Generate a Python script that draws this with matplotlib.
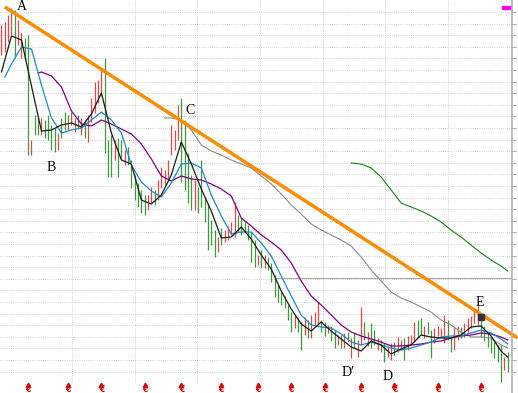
import numpy as np
import matplotlib
matplotlib.use("Agg")
import matplotlib.pyplot as plt
from matplotlib.patches import Rectangle

# daily bars (high / low), up=1 -> red bar, up=0 -> green bar
bar_high = [375, 378, 385, 392, 390, 380, 367, 362, 365, 260,
            285, 282, 282, 280, 285, 275, 272, 267, 282, 288,
            285, 288, 282, 285, 282, 280, 285, 302, 318, 320,
            330, 342, 260, 265, 260, 262, 260, 250, 253, 240,
            225, 217, 210, 205, 205, 213, 210, 220, 233, 230,
            240, 275, 270, 295, 302, 280, 247, 225, 220, 213,
            240, 203, 197, 180, 170, 163, 172, 170, 174, 178,
            198, 185, 182, 178, 175, 168, 160, 145, 150, 145,
            143, 137, 125, 115, 108, 104, 95, 88, 85, 82,
            78, 83, 80, 85, 88, 98, 80, 78, 75, 74,
            70, 65, 65, 67, 68, 62, 67, 60, 93, 78,
            68, 77, 70, 62, 60, 57, 53, 57, 58, 63,
            60, 62, 64, 65, 78, 80, 82, 74, 78, 70,
            72, 74, 72, 85, 80, 64, 73, 74, 73, 77,
            82, 84, 90, 95, 85, 74, 67, 62, 58, 55,
            55, 43, 48]
bar_low = [345, 348, 358, 365, 342, 355, 342, 340, 245, 245,
           265, 265, 265, 262, 260, 250, 248, 250, 262, 270,
           270, 275, 268, 272, 265, 262, 258, 278, 287, 297,
           305, 247, 223, 223, 240, 223, 242, 235, 235, 212,
           200, 193, 187, 185, 190, 197, 195, 200, 212, 215,
           222, 245, 250, 260, 218, 210, 197, 190, 190, 187,
           193, 178, 150, 155, 143, 148, 155, 158, 160, 165,
           163, 168, 165, 168, 160, 138, 133, 135, 132, 132,
           130, 118, 103, 98, 95, 92, 80, 68, 72, 68,
           50, 65, 62, 62, 75, 76, 68, 64, 67, 59,
           52, 55, 52, 52, 58, 42, 52, 43, 55, 60,
           54, 52, 55, 50, 48, 38, 43, 40, 45, 48,
           50, 40, 50, 55, 58, 62, 65, 62, 66, 42,
           57, 64, 62, 57, 60, 48, 50, 60, 62, 63,
           67, 72, 77, 75, 63, 59, 53, 47, 42, 38,
           18, 30, 28]
bar_up = [1, 1, 1, 1, 0, 1, 1, 0, 0, 1,
          0, 0, 1, 0, 0, 0, 0, 1, 0, 0,
          1, 0, 1, 0, 1, 0, 1, 1, 1, 1,
          1, 0, 0, 0, 1, 0, 0, 1, 0, 0,
          0, 0, 0, 0, 1, 1, 0, 1, 1, 1,
          1, 1, 1, 1, 0, 0, 0, 0, 1, 0,
          0, 0, 0, 0, 0, 1, 0, 1, 1, 1,
          1, 0, 0, 0, 0, 0, 0, 1, 0, 1,
          0, 0, 0, 0, 0, 0, 0, 0, 1, 0,
          0, 1, 0, 1, 1, 1, 0, 0, 1, 0,
          0, 1, 0, 1, 0, 1, 0, 1, 1, 0,
          1, 0, 0, 1, 0, 0, 1, 1, 0, 1,
          1, 0, 1, 1, 1, 0, 0, 1, 0, 0,
          1, 1, 1, 1, 0, 0, 1, 1, 0, 1,
          1, 1, 1, 1, 0, 0, 0, 0, 0, 0,
          0, 1, 0]

# moving averages, read every 3rd bar
ma5 = [328, 364, 360, 314, 269, 270, 275, 277, 273, 286,
       307, 267, 240, 236, 200, 196, 205, 225, 258, 236,
       211, 189, 162, 163, 173, 161, 145, 131, 109, 91,
       76, 69, 78, 69, 61, 53, 49, 59, 55, 46,
       51, 55, 65, 63, 62, 62, 65, 73, 74, 64,
       49, 43]
ma10 = [323,
        336, 353, 351, 315, 282, 267, 270, 272, 280, 288,
        280, 267, 235, 218, 209, 203, 217, 236, 237, 232,
        205, 184, 166, 168, 168, 157, 144, 124, 104, 85,
        75, 73, 72, 66, 58, 55, 58, 55, 52, 50,
        52, 55, 58, 63, 64, 64, 67, 70, 67, 61,
        56]
ma20 = [327,
        328, 324, 313, 289, 276, 274, 280, 276, 271, 266,
        256, 241, 224, 219, 224, 221, 220, 216, 211, 204,
        182, 174, 165, 158, 150, 137, 119, 104, 95, 85,
        75, 68, 64, 61, 58, 54, 54, 55, 56, 58,
        59, 62, 64, 65, 67, 66, 63,
        60]
ma60 = [282,
        282, 280, 270, 255, 249, 245, 240, 236, 232, 224,
        216, 206, 195, 186, 176, 170, 165, 160, 154, 143,
        130, 119, 108, 102, 98, 93, 88, 80, 75, 68,
        63, 63, 62, 55,
        52]
ma120 = [237,
         236, 232, 223, 210, 197, 193, 189, 184, 178, 170,
         163, 155, 147, 140, 134,
         129]

trend_x = [1, 155]
trend_y = [393, 62]
signal_idx = [8, 20, 30, 43, 54, 66, 77, 87, 97, 108, 118, 131, 144]
marker_e = (144.1, 83)
labels = [("A", 6.0, 393.5), ("B", 14.9, 232.5), ("C", 56.6, 289.5),
          ("D\u2032", 104.1, 28), ("D", 115.8, 24), ("E", 143.7, 98)]

n = len(bar_high)
idx = np.arange(n)
every3 = list(range(0, n, 3))
x_ma5 = every3 + [n - 1]
x_ma10 = [1] + every3[1:] + [n - 1]
x_ma20 = [11] + every3[4:] + [n - 1]
x_ma60 = [49] + every3[17:] + [n - 1]
x_ma120 = [105] + every3[36:] + [n - 1]

fig = plt.figure(figsize=(5.18, 3.93), dpi=100)
ax = fig.add_axes([0, 0, 512 / 518, 1])
ax.set_xlim(-0.45, 153.3)
ax.set_ylim(7, 400)

# grid
grid_y = 388 - 11.6 * np.arange(32)
ax.set_yticks(grid_y)
ax.set_yticklabels([])
ax.yaxis.tick_right()
ax.tick_params(axis="y", length=3, color="#b0b0b0", width=0.8)
ax.set_xticks([])
ax.grid(axis="y", color="#c4c4c4", linestyle=(0, (0.7, 1.5)), linewidth=0.7)
grid_x = [21.2, 40.1, 58.7, 77.6, 96.5, 115.2, 134.1]
ax.vlines(grid_x, 18, 400, colors="#c4c4c4", linestyles=(0, (0.7, 1.5)), linewidth=0.7)
for s in ["top", "left", "bottom"]:
    ax.spines[s].set_visible(False)
ax.spines["right"].set_color("#b0b0b0")
ax.spines["right"].set_linewidth(1.2)

ax.hlines(122, 82, 153.3, colors="#a8a8a8", linewidth=0.8)

# bars
cols = ["#e04848" if u else "#3c9a3c" for u in bar_up]
ax.vlines(idx, bar_low, bar_high, colors=cols, linewidth=0.9)

# moving averages
ax.plot(x_ma120, ma120, color="#1a7f1a", lw=0.8)
ax.plot(x_ma60, ma60, color="#8a8a8a", lw=0.8)
ax.plot(x_ma20, ma20, color="#800080", lw=0.9)
ax.plot(x_ma10, ma10, color="#1c8ac8", lw=0.9)
ax.plot(x_ma5, ma5, color="#1a1a1a", lw=0.9)

# trend line
ax.plot(trend_x, trend_y, color="#ff8c00", lw=2.5, clip_on=False, solid_capstyle="butt")

ax.plot(*marker_e, marker="s", color="#333333", markersize=5)

for txt, xx, yy in labels:
    ax.text(xx, yy, txt, ha="center", va="center", fontsize=10,
            family=["Liberation Serif", "DejaVu Serif"], color="black")

# signal arrows at bottom
ax.plot(signal_idx, [15.5] * len(signal_idx), ls="none", marker="^",
        color="#e00000", markersize=3.2)
for s in signal_idx:
    ax.text(s, 10.5, "\u20ac", color="#e00000", fontsize=5.5, ha="center",
            va="center", fontweight="bold")

ax.add_patch(Rectangle((502 / 512, 384 / 393), 9 / 512, 3 / 393,
                       transform=ax.transAxes, color="#ff00ff", clip_on=False))

fig.savefig("out.png", dpi=100)
